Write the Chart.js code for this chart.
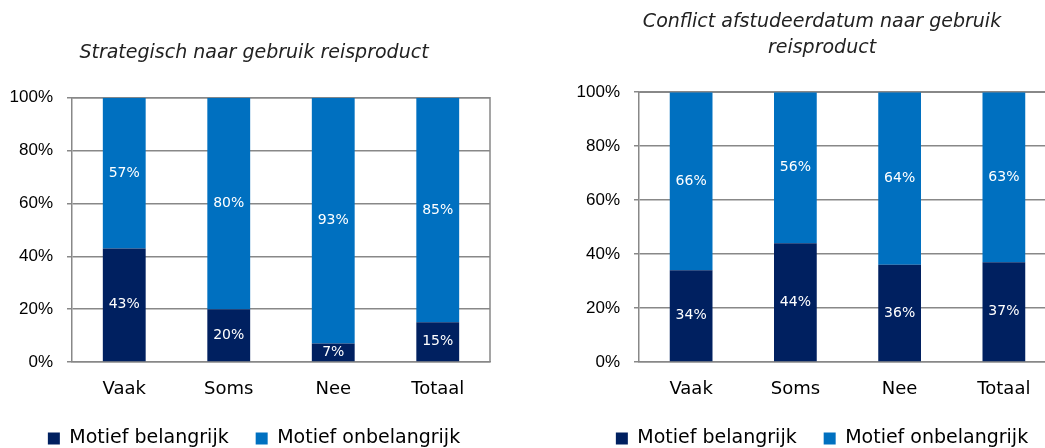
<!DOCTYPE html>
<html>
<head>
<meta charset="utf-8">
<script src="https://cdn.jsdelivr.net/npm/chart.js@4"></script>
<style>
  html, body { margin: 0; padding: 0; background: #fff; overflow: hidden; }
  body { width: 1045px; height: 448px; position: relative; }
  canvas { position: absolute; top: 0; }
  #links { left: 0; }
  #rechts { left: 560px; }
</style>
</head>
<body>
<canvas id="links" width="508" height="470"></canvas>
<canvas id="rechts" width="524" height="470"></canvas>
<script>
const categories = ['Vaak', 'Soms', 'Nee', 'Totaal']
const seriesNames = ['Motief belangrijk', 'Motief onbelangrijk']
const strategischBelangrijk = [43, 20, 7, 15]
const strategischOnbelangrijk = [57, 80, 93, 85]
const conflictBelangrijk = [34, 44, 36, 37]
const conflictOnbelangrijk = [66, 56, 64, 63]

const navy = '#002060'
const blauw = '#0070C0'
const grijs = '#888888'

// percentages midden in elk staafdeel
const labelsInBars = {
  id: 'labelsInBars',
  afterDatasetsDraw(chart) {
    const ctx = chart.ctx
    ctx.save()
    ctx.fillStyle = '#fff'
    ctx.font = '14px "DejaVu Sans"'
    ctx.textAlign = 'center'
    ctx.textBaseline = 'middle'
    chart.data.datasets.forEach((ds, i) => {
      chart.getDatasetMeta(i).data.forEach((bar, j) => {
        ctx.fillText(ds.data[j] + '%', bar.x, (bar.y + bar.base) / 2)
      })
    })
    ctx.restore()
  }
}

// rand rechts en boven van het plotvlak
const kader = {
  id: 'kader',
  beforeDatasetsDraw(chart) {
    const a = chart.chartArea
    const ctx = chart.ctx
    ctx.save()
    ctx.strokeStyle = grijs
    ctx.lineWidth = 1.5
    ctx.beginPath()
    ctx.moveTo(a.left, a.top)
    ctx.lineTo(a.right, a.top)
    ctx.lineTo(a.right, a.bottom)
    ctx.stroke()
    ctx.restore()
  }
}

function maakGrafiek(id, titel, belangrijk, onbelangrijk, opts) {
  return new Chart(document.getElementById(id), {
    type: 'bar',
    data: {
      labels: categories,
      datasets: [
        { label: seriesNames[0], data: belangrijk, backgroundColor: navy },
        { label: seriesNames[1], data: onbelangrijk, backgroundColor: blauw }
      ]
    },
    options: {
      responsive: false,
      animation: false,
      categoryPercentage: 1,
      barPercentage: 0.41,
      layout: { padding: { top: opts.padTop, right: 0, bottom: 12, left: 0 } },
      plugins: {
        title: {
          display: true,
          text: titel,
          color: '#222',
          font: { family: 'DejaVu Sans', size: 19, style: 'italic', weight: 'normal', lineHeight: opts.titleLh },
          padding: { top: 0, bottom: opts.titleGap }
        },
        legend: {
          position: 'bottom',
          labels: {
            boxWidth: 12,
            boxHeight: 12,
            padding: 27,
            color: '#000',
            font: { family: 'DejaVu Sans', size: 19 }
          }
        },
        tooltip: { enabled: false }
      },
      scales: {
        x: {
          stacked: true,
          grid: { display: false },
          border: { color: grijs, width: 1.5 },
          ticks: { color: '#000', padding: 9, font: { family: 'DejaVu Sans', size: 18 } },
          afterFit(s) { s.height = 40 }
        },
        y: {
          stacked: true,
          min: 0,
          max: 100,
          ticks: {
            stepSize: 20,
            padding: 14,
            color: '#000',
            font: { family: 'Liberation Sans', size: 17 },
            callback: v => v + '%'
          },
          grid: { color: grijs, lineWidth: 1.5, tickLength: 5 },
          border: { color: grijs, width: 1.5 },
          afterFit(s) { s.width = opts.yWidth }
        },
        // lege as rechts: ruimte naast het plotvlak
        ruimte: {
          position: 'right',
          grid: { display: false },
          border: { display: false },
          ticks: { display: false },
          afterFit(s) { s.width = opts.rightGap }
        }
      }
    },
    plugins: [kader, labelsInBars]
  })
}

maakGrafiek('links', 'Strategisch naar gebruik reisproduct',
  strategischBelangrijk, strategischOnbelangrijk,
  { padTop: 42, titleLh: 1.2, titleGap: 33, yWidth: 72, rightGap: 18 })

maakGrafiek('rechts', ['Conflict afstudeerdatum naar gebruik', 'reisproduct'],
  conflictBelangrijk, conflictOnbelangrijk,
  { padTop: 10, titleLh: 1.32, titleGap: 32, yWidth: 79, rightGap: 28 })
</script>
</body>
</html>
